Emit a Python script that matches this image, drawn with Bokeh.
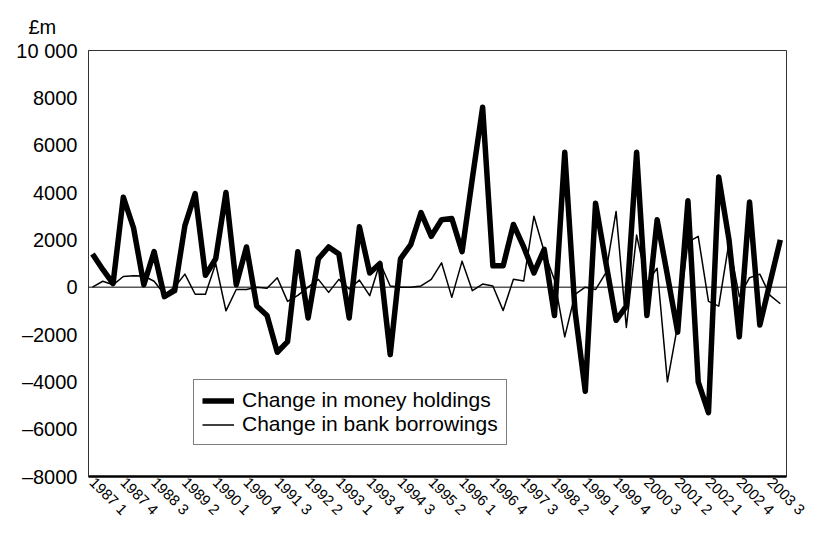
import math
from bokeh.plotting import figure
from bokeh.models import Range1d, FixedTicker, Span, Legend, LegendItem, Title
from bokeh.embed import file_html
from bokeh.resources import INLINE

# Change in money holdings (£m), quarterly 1987 Q1 - 2003 Q4
money = [1400, 750, 150, 3800, 2500, 100, 1500, -400, -150, 2600,
         3950, 500, 1200, 4000, 100, 1700, -800, -1200, -2750, -2300,
         1500, -1300, 1200, 1700, 1400, -1300, 2550, 600, 1000, -2850,
         1200, 1800, 3150, 2150, 2850, 2900, 1500, 4600, 7600, 900,
         900, 2650, 1700, 600, 1600, -1200, 5700, -1000, -4400, 3550,
         1050, -1400, -800, 5700, -1200, 2850, 500, -1900, 3650, -4000,
         -5300, 4650, 2000, -2100, 3600, -1600, 200, 2000]

# Change in bank borrowings (£m)
borrow = [0, 250, 100, 450, 480, 470, 250, -300, 0, 550,
          -300, -300, 1000, -1000, -100, -100, 0, -50, 400, -600,
          -350, 0, 330, -220, 330, -80, 300, -360, 1030, 50,
          0, 0, 50, 330, 1030, -430, 1100, -150, 130, 50,
          -990, 330, 260, 3000, 1500, 300, -2100, -300, 0, -100,
          600, 3200, -1700, 2200, 200, 800, -4000, -1600, 1900, 2150,
          -600, -800, 1900, -400, 400, 550, -350, -700]

tick_pos = [0, 3, 6, 9, 12, 15, 18, 21, 24, 27, 30, 33, 36, 39, 42, 45,
            48, 51, 54, 57, 60, 63, 66]
tick_labels = ["1987 1", "1987 4", "1988 3", "1989 2", "1990 1", "1990 4",
               "1991 3", "1992 2", "1993 1", "1993 4", "1994 3", "1995 2",
               "1996 1", "1996 4", "1997 3", "1998 2", "1999 1", "1999 4",
               "2000 3", "2001 2", "2002 1", "2002 4", "2003 3"]

y_ticks = [-8000, -6000, -4000, -2000, 0, 2000, 4000, 6000, 8000, 10000]
y_labels = ["\u20138000", "\u20136000", "\u20134000", "\u20132000", "0",
            "2000", "4000", "6000", "8000", "10 000"]

FONT = "Liberation Sans"

x = list(range(len(money)))

p = figure(width=816, height=526, output_backend="svg", toolbar_location=None,
           x_range=Range1d(-0.39, 67.6), y_range=Range1d(-8000, 10000),
           min_border_left=88, min_border_right=30, min_border_top=50,
           min_border_bottom=46, background_fill_color="white",
           border_fill_color="white")

p.xgrid.visible = False
p.ygrid.visible = False
p.outline_line_color = "#333333"
p.outline_line_width = 1

zero = Span(location=0, dimension="width", line_color="black", line_width=1)
p.add_layout(zero)

r1 = p.line(x, money, line_color="black", line_width=5.5, line_join="round")
r2 = p.line(x, borrow, line_color="black", line_width=1.5, line_join="round")

# x axis
xa = p.xaxis[0]
xa.ticker = FixedTicker(ticks=tick_pos)
xa.major_label_overrides = {t: l for t, l in zip(tick_pos, tick_labels)}
xa.major_label_orientation = -math.pi / 4
xa.major_label_text_font = FONT
xa.major_label_text_font_size = "15px"
xa.major_label_text_color = "black"
xa.major_tick_line_color = None
xa.minor_tick_line_color = None
xa.major_tick_out = 0
xa.major_tick_in = 0
xa.major_label_standoff = 3
xa.axis_line_color = "black"
xa.axis_line_width = 2.5

# y axis
ya = p.yaxis[0]
ya.ticker = FixedTicker(ticks=y_ticks)
ya.major_label_overrides = {t: l for t, l in zip(y_ticks, y_labels)}
ya.major_label_text_font = FONT
ya.major_label_text_font_size = "20px"
ya.major_label_text_color = "black"
ya.major_tick_line_color = None
ya.minor_tick_line_color = None
ya.major_tick_out = 0
ya.major_tick_in = 0
ya.major_label_standoff = 11
ya.axis_line_color = "#333333"
ya.axis_line_width = 1

# unit label
p.add_layout(Title(text="£m", align="left", offset=-60, text_font=FONT,
                   text_font_size="20px", text_font_style="normal",
                   text_color="black", standoff=26), "above")

legend = Legend(items=[LegendItem(label="Change in money holdings", renderers=[r1]),
                       LegendItem(label="Change in bank borrowings", renderers=[r2])],
                location=(105, 31), orientation="vertical")
legend.label_text_font = FONT
legend.label_text_font_size = "21px"
legend.label_text_color = "black"
legend.glyph_width = 32
legend.glyph_height = 23
legend.label_height = 23
legend.label_standoff = 8
legend.spacing = 0
legend.padding = 8
legend.margin = 0
legend.border_line_color = "black"
legend.border_line_width = 1
legend.background_fill_color = "white"
legend.background_fill_alpha = 1
p.add_layout(legend)

open("out.html", "w").write(file_html(p, INLINE))
